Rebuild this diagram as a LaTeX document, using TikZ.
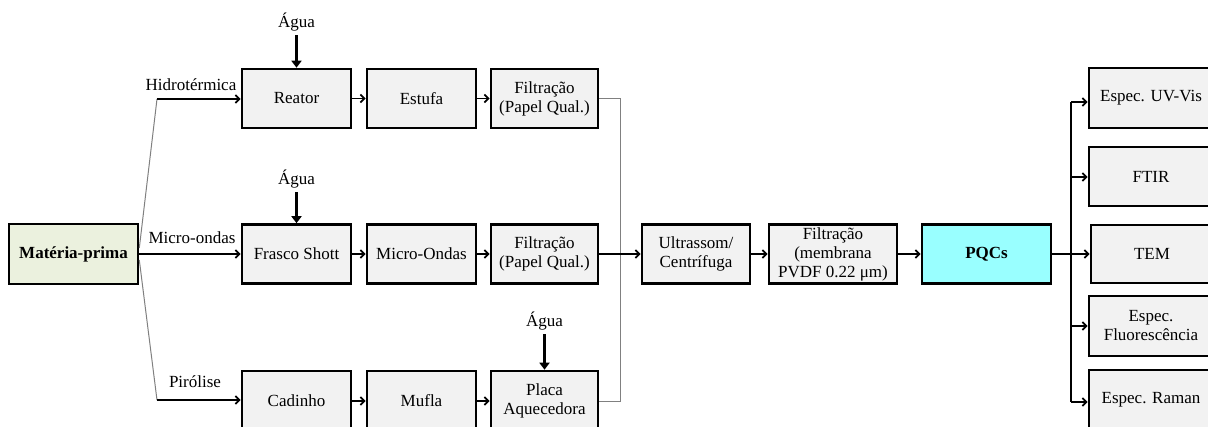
\documentclass[tikz,border=0pt]{standalone}
\usepackage{fontspec}
\setmainfont{Liberation Serif}
\usetikzlibrary{arrows.meta}
\definecolor{boxgray}{HTML}{F2F2F2}
\definecolor{mpgreen}{HTML}{EBF1DE}
\definecolor{pqccyan}{HTML}{99FFFF}
\definecolor{thingray}{HTML}{808080}
\begin{document}
\begin{tikzpicture}[x=1pt,y=-1pt,
  txt/.style={font=\fontsize{17}{19}\selectfont, inner sep=0pt},
  box/.style={draw=black, line width=2.6pt, fill=boxgray, minimum width=109pt, minimum height=59pt, inner sep=0pt, align=center, font=\fontsize{17}{19}\selectfont},
  conn/.style={line width=1.8pt, -{Straight Barb[length=4pt,width=8pt]}},
  thinline/.style={line width=1pt, draw=thingray},
  water/.style={line width=3pt, -{Triangle[length=7pt,width=10pt]}}
]
\useasboundingbox (0,0) rectangle (1208,426);
% main nodes
\node[box, fill=mpgreen, minimum width=129pt, minimum height=60pt, font=\fontsize{17}{19}\selectfont\bfseries] (mp) at (73.5,254) {Matéria-prima};
\node[box] (reator) at (296.5,98.5) {Reator};
\node[box] (estufa) at (421.5,98.5) {Estufa};
\node[box, minimum width=107pt] (filt1) at (544.5,98.5) {Filtração\\(Papel Qual.)};
\node[box] (frasco) at (296.5,254) {Frasco Shott};
\node[box] (micro) at (421.5,254) {Micro-Ondas};
\node[box, minimum width=107pt] (filt2) at (544.5,254) {Filtração\\(Papel Qual.)};
\node[box, minimum height=60pt] (cadinho) at (296.5,401) {Cadinho};
\node[box, minimum height=60pt] (mufla) at (421.5,401) {Mufla};
\node[box, minimum width=107pt, minimum height=60pt] (placa) at (544.5,401) {Placa\\Aquecedora};
\node[box, minimum width=108pt] (ultra) at (696,254) {Ultrassom/\\Centrífuga};
\node[box, minimum width=128pt] (filt3) at (833,254) {Filtração\\(membrana\\PVDF 0.22 μm)};
\node[box, fill=pqccyan, minimum width=129pt, font=\fontsize{17}{19}\selectfont\bfseries] (pqc) at (986.5,254) {PQCs};
\node[box, minimum width=124pt, minimum height=60pt] (uv) at (1151,98) {Espec. UV-Vis};
\node[box, minimum width=124pt] (ftir) at (1151,176.5) {FTIR};
\node[box, minimum width=122pt, minimum height=58pt] (tem) at (1152,254) {TEM};
\node[box, minimum width=124pt, minimum height=60pt] (fluor) at (1151,326) {Espec.\\Fluorescência};
\node[box, minimum width=124pt, minimum height=60pt] (raman) at (1151,400) {Espec. Raman};
% water labels
\node[txt] (ag1) at (296.5,22) {Água};
\node[txt] (ag2) at (296.5,179) {Água};
\node[txt] (ag3) at (544.5,321) {Água};
\draw[water] (ag1.south) ++(0,4) -- (reator.north);
\draw[water] (ag2.south) ++(0,4) -- (frasco.north);
\draw[water] (ag3.south) ++(0,4) -- (placa.north);
% route labels
\node[txt] (lh) at (191,85) {Hidrotérmica};
\node[txt] (lm) at (192,238) {Micro-ondas};
\node[txt] (lp) at (195,382) {Pirólise};
% branches
\coordinate (kt) at (157,99);
\coordinate (kb) at (157,400);
\draw[thinline] ([yshift=6pt]mp.east) -- (kt);
\draw[thinline] ([yshift=-6pt]mp.east) -- (kb);
\draw[conn] (kt) -- (kt -| reator.west);
\draw[conn] (mp.east) -- (frasco.west);
\draw[conn] (kb) -- (kb -| cadinho.west);
% rows
\draw[conn] (reator) -- (estufa);
\draw[conn] (estufa) -- (filt1);
\draw[conn] (frasco) -- (micro);
\draw[conn] (micro) -- (filt2);
\draw[conn] (cadinho) -- (mufla);
\draw[conn] (mufla) -- (placa);
% collector
\coordinate (ct) at (620,98.5);
\coordinate (cb) at (620,401);
\draw[thinline] (filt1.east) -- (ct) -- (cb) -- (placa.east);
\draw[conn] (filt2.east) -- (ultra.west);
\draw[conn] (ultra) -- (filt3);
\draw[conn] (filt3) -- (pqc);
% analyses
\coordinate (vt) at (1071,102);
\coordinate (vb) at (1071,402);
\coordinate (vm) at (1071,254);
\draw[line width=1.8pt] (vt) -- (vb);
\draw[line width=1.8pt] (pqc.east) -- (vm);
\draw[conn] (vt) -- (vt -| uv.west);
\draw[conn] (1071,177) -- (1071,177 -| ftir.west);
\draw[conn] (vm) -- (tem.west);
\draw[conn] (1071,326) -- (1071,326 -| fluor.west);
\draw[conn] (vb) -- (vb -| raman.west);
\end{tikzpicture}
\end{document}
